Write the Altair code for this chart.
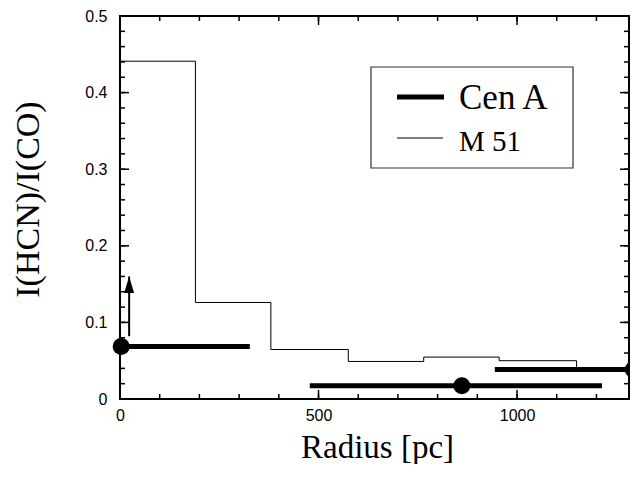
import altair as alt
import pandas as pd

# ---------------- data ----------------
# M 51 : thin step histogram (bin edges in pc, ratio per bin)
m51_edges = [0, 190, 380, 575, 765, 955, 1150]
m51_ratio = [0.441, 0.126, 0.0646, 0.049, 0.0547, 0.050]
m51_end_ratio = 0.038

# Cen A : points with horizontal bars
cen_r = [3, 861, 1293]
cen_ratio = [0.0685, 0.0172, 0.0384]
cen_rmin = [0, 478, 944]
cen_rmax = [327, 1214, 1300]

# lower-limit arrow on the first Cen A point
arrow_r = [23]
arrow_from = [0.082]
arrow_to = [0.160]

# ticks
x_major = [0, 500, 1000]
x_minor = [0, 100, 200, 300, 400, 500, 600, 700, 800, 900, 1000, 1100, 1200]
y_major = [0, 0.1, 0.2, 0.3, 0.4, 0.5]
y_minor = [round(0.02 * i, 2) for i in range(26)]

legend_labels = ["Cen A", "M 51"]

# ---------------- tables ----------------
rows = []
k = 0
for i, v in enumerate(m51_ratio):
    rows.append({"r": m51_edges[i], "ratio": v, "i": k}); k += 1
    rows.append({"r": m51_edges[i + 1], "ratio": v, "i": k}); k += 1
rows.append({"r": m51_edges[-1], "ratio": m51_end_ratio, "i": k})
m51_df = pd.DataFrame(rows)

cen_df = pd.DataFrame({"r": cen_r, "ratio": cen_ratio, "rmin": cen_rmin, "rmax": cen_rmax})
arrow_df = pd.DataFrame({"r": arrow_r, "y0": arrow_from, "y1": arrow_to})
one = pd.DataFrame({"a": [0]})
xmaj_df = pd.DataFrame({"v": x_major})
xmin_df = pd.DataFrame({"v": x_minor})
ymaj_df = pd.DataFrame({"v": y_major})
ymin_df = pd.DataFrame({"v": y_minor})

SERIF = "Liberation Serif"
SANS = "Liberation Sans"
W, H = 509, 383

xs = alt.Scale(domain=[0, 1282], nice=False, zero=False)
ys = alt.Scale(domain=[0, 0.5], nice=False, zero=False)

ax_x = alt.Axis(orient="bottom", values=x_major, ticks=False, domain=False, grid=False,
                labelPadding=8, labelFont=SANS, labelFontSize=16, labelColor="black",
                labelFlush=False, labelOverlap=False, format="d",
                title="Radius [pc]", titleFont=SERIF, titleFontSize=33,
                titleFontWeight="normal", titleColor="black",
                titleBaseline="alphabetic", titleAlign="center",
                titleX=257, titleY=58)

ax_y = alt.Axis(orient="left", values=y_major, ticks=False, domain=False, grid=False,
                labelPadding=13, labelFont=SANS, labelFontSize=16, labelColor="black",
                labelFlush=False, labelOverlap=False,
                labelExpr="datum.value === 0 ? '0' : format(datum.value, '.1f')",
                title="I(HCN)/I(CO)", titleFont=SERIF, titleFontSize=34,
                titleFontWeight="normal", titleColor="black",
                titleAngle=270, titleBaseline="alphabetic", titleAlign="center",
                titleX=-82, titleY=183)

m51 = alt.Chart(m51_df).mark_line(color="black", strokeWidth=1).encode(
    x=alt.X("r:Q", scale=xs, axis=ax_x),
    y=alt.Y("ratio:Q", scale=ys, axis=ax_y),
    order="i:Q",
)

cen_bars = alt.Chart(cen_df).mark_rule(color="black", strokeWidth=5).encode(
    x=alt.X("rmin:Q", scale=xs, axis=None),
    x2="rmax:Q",
    y=alt.Y("ratio:Q", scale=ys, axis=None),
)

cen_pts = alt.Chart(cen_df).mark_point(filled=True, color="black", size=290, opacity=1,
                                       shape="circle", clip=False).encode(
    x=alt.X("r:Q", scale=xs, axis=None),
    y=alt.Y("ratio:Q", scale=ys, axis=None),
)

arrow_stem = alt.Chart(arrow_df).mark_rule(color="black", strokeWidth=2).encode(
    x=alt.X("r:Q", scale=xs, axis=None),
    y=alt.Y("y0:Q", scale=ys, axis=None),
    y2="y1:Q",
)

arrow_head = alt.Chart(arrow_df).mark_point(filled=True, color="black", opacity=1, size=1100,
                                            shape="M0,0L0.3,1L-0.3,1Z").encode(
    x=alt.X("r:Q", scale=xs, axis=None),
    y=alt.Y("y1:Q", scale=ys, axis=None),
)


def xticks(df, y0, y1):
    return alt.Chart(df).mark_rule(color="black", strokeWidth=1.5).encode(
        x=alt.X("v:Q", scale=xs, axis=None), y=alt.value(y0), y2=alt.value(y1))


def yticks(df, x0, x1):
    return alt.Chart(df).mark_rule(color="black", strokeWidth=1.5).encode(
        y=alt.Y("v:Q", scale=ys, axis=None), x=alt.value(x0), x2=alt.value(x1))


ticks = [
    xticks(xmin_df, H, H - 5), xticks(xmaj_df, H, H - 9),
    xticks(xmin_df, 0, 5), xticks(xmaj_df, 0, 9),
    yticks(ymin_df, 0, 5), yticks(ymaj_df, 0, 9),
    yticks(ymin_df, W, W - 5), yticks(ymaj_df, W, W - 9),
]

legend_box = alt.Chart(one).mark_rect(fill="white", stroke="#333333", strokeWidth=1.2).encode(
    x=alt.value(251), x2=alt.value(453), y=alt.value(51), y2=alt.value(152)
)
leg_line_cen = alt.Chart(one).mark_rule(color="black", strokeWidth=5).encode(
    x=alt.value(277), x2=alt.value(324), y=alt.value(81)
)
leg_line_m51 = alt.Chart(one).mark_rule(color="black", strokeWidth=1).encode(
    x=alt.value(277), x2=alt.value(323), y=alt.value(122)
)
leg_text_cen = alt.Chart(one).mark_text(align="left", baseline="alphabetic", font=SERIF,
                                        fontSize=35, color="black").encode(
    x=alt.value(339), y=alt.value(93), text=alt.value(legend_labels[0])
)
leg_text_m51 = alt.Chart(one).mark_text(align="left", baseline="alphabetic", font=SERIF,
                                        fontSize=29, color="black").encode(
    x=alt.value(339), y=alt.value(135), text=alt.value(legend_labels[1])
)

chart = alt.layer(
    m51, *ticks, cen_bars, cen_pts, arrow_stem, arrow_head,
    legend_box, leg_line_cen, leg_line_m51, leg_text_cen, leg_text_m51,
).resolve_axis(
    x="independent", y="independent"
).properties(
    width=W, height=H,
    autosize=alt.AutoSizeParams(type="none"),
    padding={"left": 112, "top": 8, "right": 1, "bottom": 65},
    background="white",
).configure_view(
    stroke="black", strokeWidth=2
)

chart.save("out.html", embed_options={"renderer": "svg", "actions": False})
